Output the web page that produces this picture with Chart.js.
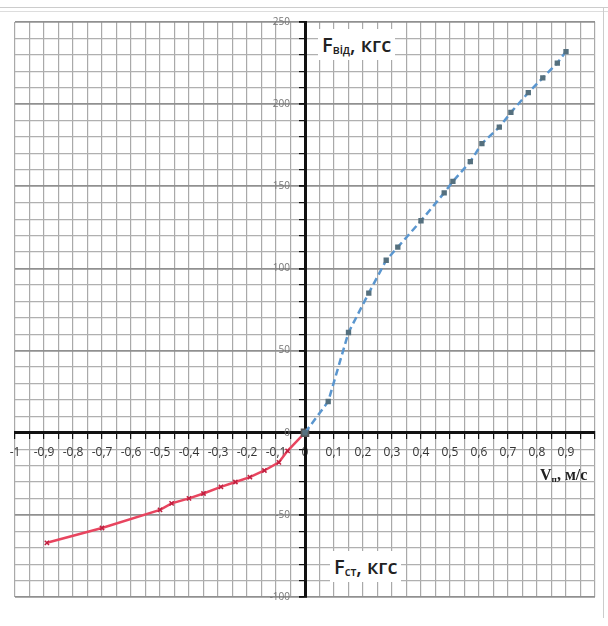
<!DOCTYPE html>
<html>
<head>
<meta charset="utf-8">
<script src="https://cdn.jsdelivr.net/npm/chart.js@4.4.0/dist/chart.umd.min.js"></script>
<style>
    body { margin: 0; background: #fff; }
    .wrap { position: relative; width: 608px; height: 626px; }
    .frame-top { position: absolute; left: 0; top: 7px; width: 608px; height: 3px; border-top: 1px solid #ccc; border-bottom: 1px solid #ddd; }
    .frame-right { position: absolute; left: 603px; top: 8px; width: 1px; height: 610px; background: #ccc; }
    .lbl { position: absolute; background: #fff; color: #222; white-space: nowrap; }
    .lbl sub { font-size: 58%; vertical-align: -2px; }
    #lblTop { left: 318px; top: 29px; padding: 2px 4px; font: 600 20px 'Open Sans', sans-serif; }
    #lblBottom { left: 330px; top: 551px; padding: 2px 4px; font: 600 20px 'Open Sans', sans-serif; }
    #lblX { left: 538px; top: 466px; padding: 0 2px; font: bold 16px 'Liberation Serif', serif; background: transparent; }
</style>
</head>
<body>
<div class="wrap">
    <canvas id="forceChart" width="608" height="626"></canvas>
    <div class="frame-top"></div>
    <div class="frame-right"></div>
    <div class="lbl" id="lblTop">F<sub>від</sub>, кгс</div>
    <div class="lbl" id="lblBottom">F<sub>ст</sub>, кгс</div>
    <div class="lbl" id="lblX">V<sub>п</sub>, м/с</div>
</div>
<script>
// blue branch (positive speed)
const velOut = [0, 0.08, 0.15, 0.22, 0.28, 0.32, 0.40, 0.48, 0.51, 0.57, 0.61, 0.67, 0.71, 0.77, 0.82, 0.87, 0.90];
const forceOut = [0, 19, 61, 85, 105, 113, 129, 146, 153, 165, 176, 186, 195, 207, 216, 225, 232];

// red branch (negative speed)
const velIn = [0, -0.06, -0.09, -0.14, -0.19, -0.24, -0.29, -0.35, -0.40, -0.46, -0.50, -0.70, -0.89];
const forceIn = [0, -11, -18, -23, -27, -30, -33, -37, -40, -43, -47, -58, -67];

// labelled ticks
const xTickLabels = [-1, -0.9, -0.8, -0.7, -0.6, -0.5, -0.4, -0.3, -0.2, -0.1, 0, 0.1, 0.2, 0.3, 0.4, 0.5, 0.6, 0.7, 0.8, 0.9];
const yTickLabels = [-100, -50, 0, 50, 100, 150, 200, 250];

function toPoints(xs, ys) {
    return xs.map((x, i) => ({ x: x, y: ys[i] }));
}

function findLabel(list, v) {
    return list.find(t => Math.abs(t - v) < 1e-6);
}

const ctx = document.getElementById('forceChart');
new Chart(ctx.getContext('2d'), {
    type: 'scatter',
    data: {
        datasets: [
            {
                data: toPoints(velOut, forceOut),
                showLine: true,
                borderColor: '#5a96cf',
                borderDash: [7, 4],
                borderWidth: 2.5,
                pointStyle: 'rect',
                pointRadius: 2,
                pointBackgroundColor: '#55707e',
                pointBorderColor: '#55707e'
            },
            {
                data: toPoints(velIn, forceIn),
                showLine: true,
                borderColor: '#e8455f',
                backgroundColor: '#d0304c',
                borderWidth: 2.5,
                pointStyle: (c) => c.dataIndex === 0 ? 'rect' : 'crossRot',
                pointRadius: (c) => c.dataIndex === 0 ? 5 : 3,
                pointBackgroundColor: (c) => c.dataIndex === 0 ? '#555' : '#c02040',
                pointBorderColor: (c) => c.dataIndex === 0 ? '#555' : '#c02040',
                pointBorderWidth: 1.5
            }
        ]
    },
    options: {
        responsive: false,
        animation: false,
        layout: { padding: { left: 15, right: 13, top: 22, bottom: 29 } },
        plugins: {
            legend: { display: false },
            tooltip: { enabled: false }
        },
        scales: {
            x: {
                type: 'linear',
                min: -1,
                max: 1,
                position: { y: 0 },
                afterFit: (scale) => { scale.height = 0; },
                border: { display: true, color: '#111', width: 3 },
                grid: {
                    color: '#a9a9a9',
                    lineWidth: 1.2,
                    tickColor: '#111',
                    tickLength: 5
                },
                ticks: {
                    stepSize: 0.05,
                    autoSkip: false,
                    maxRotation: 0,
                    padding: 8,
                    color: '#333',
                    font: { family: 'Open Sans', size: 12 },
                    callback: function (value) {
                        const t = findLabel(xTickLabels, value);
                        if (t === undefined) return '';
                        return String(Math.round(t * 10) / 10).replace('.', ',');
                    }
                }
            },
            y: {
                type: 'linear',
                min: -100,
                max: 250,
                position: { x: 0 },
                afterFit: (scale) => { scale.width = 0; },
                border: { display: true, color: '#111', width: 3 },
                grid: {
                    color: (c) => (c.tick && c.tick.value % 50 === 0) ? '#909090' : '#b0b0b0',
                    lineWidth: (c) => (c.tick && c.tick.value % 50 === 0) ? 1.8 : 1.2,
                    tickColor: '#111',
                    tickLength: 5
                },
                ticks: {
                    stepSize: 10,
                    autoSkip: false,
                    padding: 8,
                    color: '#777',
                    font: { family: 'Open Sans', size: 10 },
                    callback: function (value) {
                        const t = findLabel(yTickLabels, value);
                        // labels sit right-aligned on the axis, en spaces push them left of it
                        return t === undefined ? '' : String(t) + '\u2002\u2002\u2002';
                    }
                }
            }
        }
    }
});
</script>
</body>
</html>
